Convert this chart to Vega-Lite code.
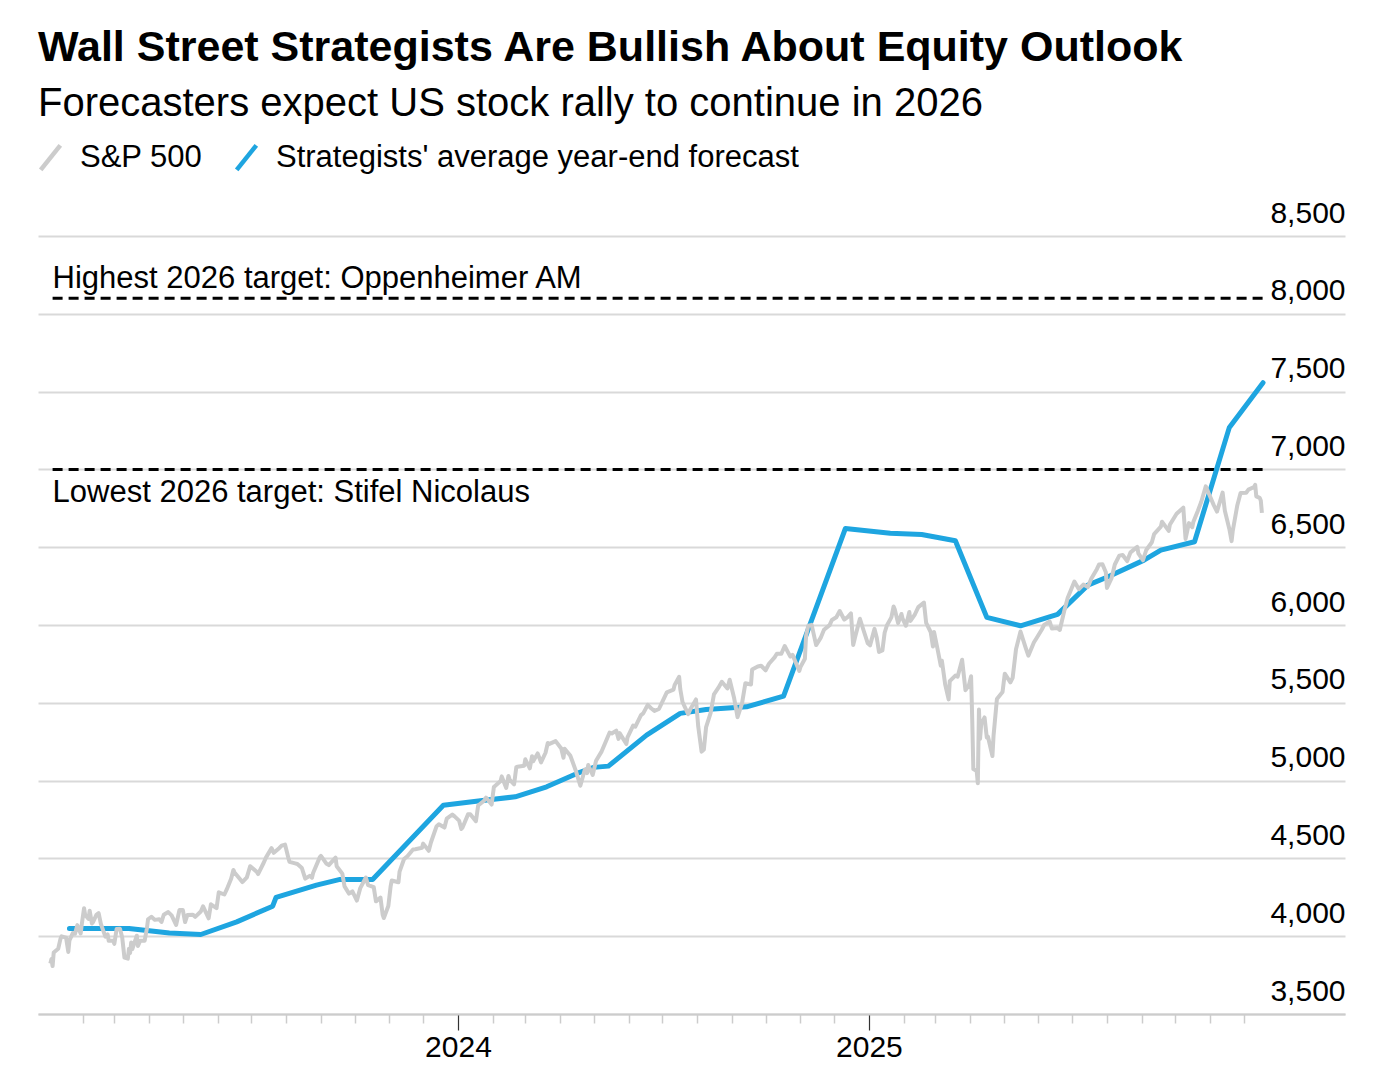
{
  "$schema": "https://vega.github.io/schema/vega-lite/v6.json",
  "width": 1307,
  "height": 778,
  "autosize": {"type": "none"},
  "padding": {"left": 38, "top": 236, "right": 41, "bottom": 66},
  "background": "white",
  "title": {
    "text": "Wall Street Strategists Are Bullish About Equity Outlook",
    "subtitle": "Forecasters expect US stock rally to continue in 2026",
    "anchor": "start",
    "frame": "group",
    "font": "Liberation Sans",
    "fontSize": 43,
    "fontWeight": "bold",
    "color": "#000000",
    "subtitleFont": "Liberation Sans",
    "subtitleFontSize": 40,
    "subtitleColor": "#000000",
    "subtitlePadding": 14,
    "offset": 18
  },
  "config": {
    "view": {"stroke": null},
    "font": "Liberation Sans",
    "legend": {
      "orient": "none",
      "legendX": -3,
      "legendY": -94,
      "direction": "horizontal",
      "title": null,
      "padding": 0,
      "symbolType": "M-0.8,1L0.8,-1",
      "symbolSize": 600,
      "symbolStrokeWidth": 4.5,
      "labelFont": "Liberation Sans",
      "labelFontSize": 31,
      "labelColor": "#000000",
      "labelOffset": 14,
      "labelLimit": 1000,
      "columnPadding": 24
    }
  },
  "datasets": {
    "sp": [
      {"date":"2023-01-03","value":3824},{"date":"2023-01-04","value":3853},{"date":"2023-01-05","value":3808},{"date":"2023-01-06","value":3895},{"date":"2023-01-10","value":3919},{"date":"2023-01-12","value":3983},{"date":"2023-01-13","value":3999},{"date":"2023-01-17","value":3991},{"date":"2023-01-19","value":3899},{"date":"2023-01-20","value":3973},{"date":"2023-01-23","value":4020},{"date":"2023-01-25","value":4016},{"date":"2023-01-27","value":4071},{"date":"2023-01-30","value":4018},{"date":"2023-01-31","value":4077},{"date":"2023-02-02","value":4180},{"date":"2023-02-03","value":4136},{"date":"2023-02-06","value":4111},{"date":"2023-02-07","value":4164},{"date":"2023-02-09","value":4082},{"date":"2023-02-10","value":4090},{"date":"2023-02-13","value":4137},{"date":"2023-02-15","value":4148},{"date":"2023-02-17","value":4079},{"date":"2023-02-21","value":3997},{"date":"2023-02-23","value":4012},{"date":"2023-02-24","value":3970},{"date":"2023-02-28","value":3970},{"date":"2023-03-01","value":3951},{"date":"2023-03-03","value":4046},{"date":"2023-03-06","value":4048},{"date":"2023-03-08","value":3992},{"date":"2023-03-10","value":3862},{"date":"2023-03-13","value":3856},{"date":"2023-03-14","value":3919},{"date":"2023-03-15","value":3892},{"date":"2023-03-16","value":3960},{"date":"2023-03-17","value":3917},{"date":"2023-03-21","value":4003},{"date":"2023-03-22","value":3937},{"date":"2023-03-24","value":3971},{"date":"2023-03-28","value":3971},{"date":"2023-03-30","value":4051},{"date":"2023-03-31","value":4109},{"date":"2023-04-03","value":4125},{"date":"2023-04-06","value":4105},{"date":"2023-04-10","value":4109},{"date":"2023-04-12","value":4092},{"date":"2023-04-14","value":4138},{"date":"2023-04-18","value":4155},{"date":"2023-04-21","value":4134},{"date":"2023-04-25","value":4072},{"date":"2023-04-28","value":4169},{"date":"2023-05-01","value":4168},{"date":"2023-05-03","value":4091},{"date":"2023-05-05","value":4136},{"date":"2023-05-10","value":4138},{"date":"2023-05-12","value":4124},{"date":"2023-05-17","value":4159},{"date":"2023-05-19","value":4192},{"date":"2023-05-24","value":4115},{"date":"2023-05-26","value":4205},{"date":"2023-05-31","value":4180},{"date":"2023-06-02","value":4282},{"date":"2023-06-07","value":4268},{"date":"2023-06-09","value":4299},{"date":"2023-06-13","value":4369},{"date":"2023-06-15","value":4426},{"date":"2023-06-16","value":4410},{"date":"2023-06-21","value":4366},{"date":"2023-06-23","value":4348},{"date":"2023-06-27","value":4378},{"date":"2023-06-30","value":4450},{"date":"2023-07-06","value":4412},{"date":"2023-07-07","value":4399},{"date":"2023-07-12","value":4472},{"date":"2023-07-14","value":4505},{"date":"2023-07-19","value":4566},{"date":"2023-07-21","value":4536},{"date":"2023-07-26","value":4567},{"date":"2023-07-28","value":4582},{"date":"2023-07-31","value":4589},{"date":"2023-08-03","value":4502},{"date":"2023-08-04","value":4478},{"date":"2023-08-09","value":4468},{"date":"2023-08-11","value":4464},{"date":"2023-08-15","value":4438},{"date":"2023-08-18","value":4370},{"date":"2023-08-22","value":4388},{"date":"2023-08-24","value":4376},{"date":"2023-08-25","value":4406},{"date":"2023-08-31","value":4508},{"date":"2023-09-01","value":4516},{"date":"2023-09-06","value":4465},{"date":"2023-09-08","value":4457},{"date":"2023-09-14","value":4505},{"date":"2023-09-15","value":4450},{"date":"2023-09-20","value":4402},{"date":"2023-09-22","value":4320},{"date":"2023-09-26","value":4274},{"date":"2023-09-29","value":4288},{"date":"2023-10-03","value":4229},{"date":"2023-10-06","value":4309},{"date":"2023-10-11","value":4377},{"date":"2023-10-13","value":4328},{"date":"2023-10-18","value":4315},{"date":"2023-10-20","value":4224},{"date":"2023-10-24","value":4248},{"date":"2023-10-26","value":4137},{"date":"2023-10-27","value":4117},{"date":"2023-10-31","value":4194},{"date":"2023-11-02","value":4318},{"date":"2023-11-03","value":4358},{"date":"2023-11-09","value":4347},{"date":"2023-11-10","value":4415},{"date":"2023-11-14","value":4496},{"date":"2023-11-17","value":4514},{"date":"2023-11-22","value":4557},{"date":"2023-11-24","value":4559},{"date":"2023-11-30","value":4568},{"date":"2023-12-01","value":4595},{"date":"2023-12-06","value":4549},{"date":"2023-12-08","value":4604},{"date":"2023-12-13","value":4707},{"date":"2023-12-15","value":4719},{"date":"2023-12-20","value":4698},{"date":"2023-12-22","value":4755},{"date":"2023-12-27","value":4782},{"date":"2023-12-29","value":4770},
      {"date":"2024-01-02","value":4743},{"date":"2024-01-04","value":4689},{"date":"2024-01-05","value":4697},{"date":"2024-01-10","value":4783},{"date":"2024-01-12","value":4784},{"date":"2024-01-17","value":4739},{"date":"2024-01-19","value":4840},{"date":"2024-01-24","value":4869},{"date":"2024-01-26","value":4891},{"date":"2024-01-31","value":4846},{"date":"2024-02-02","value":4959},{"date":"2024-02-08","value":4998},{"date":"2024-02-09","value":5027},{"date":"2024-02-13","value":4953},{"date":"2024-02-15","value":5030},{"date":"2024-02-16","value":5006},{"date":"2024-02-20","value":4976},{"date":"2024-02-22","value":5087},{"date":"2024-02-23","value":5089},{"date":"2024-02-29","value":5096},{"date":"2024-03-01","value":5137},{"date":"2024-03-05","value":5079},{"date":"2024-03-07","value":5157},{"date":"2024-03-08","value":5124},{"date":"2024-03-12","value":5175},{"date":"2024-03-15","value":5117},{"date":"2024-03-19","value":5179},{"date":"2024-03-21","value":5242},{"date":"2024-03-22","value":5234},{"date":"2024-03-28","value":5254},{"date":"2024-04-02","value":5206},{"date":"2024-04-04","value":5147},{"date":"2024-04-05","value":5204},{"date":"2024-04-10","value":5161},{"date":"2024-04-12","value":5123},{"date":"2024-04-15","value":5062},{"date":"2024-04-19","value":4967},{"date":"2024-04-23","value":5071},{"date":"2024-04-25","value":5048},{"date":"2024-04-26","value":5100},{"date":"2024-04-30","value":5036},{"date":"2024-05-03","value":5128},{"date":"2024-05-08","value":5188},{"date":"2024-05-10","value":5223},{"date":"2024-05-15","value":5308},{"date":"2024-05-17","value":5303},{"date":"2024-05-21","value":5321},{"date":"2024-05-23","value":5268},{"date":"2024-05-24","value":5305},{"date":"2024-05-30","value":5235},{"date":"2024-05-31","value":5278},{"date":"2024-06-05","value":5354},{"date":"2024-06-07","value":5347},{"date":"2024-06-12","value":5421},{"date":"2024-06-14","value":5432},{"date":"2024-06-18","value":5487},{"date":"2024-06-21","value":5465},{"date":"2024-06-24","value":5448},{"date":"2024-06-28","value":5460},{"date":"2024-07-03","value":5537},{"date":"2024-07-05","value":5567},{"date":"2024-07-11","value":5585},{"date":"2024-07-12","value":5615},{"date":"2024-07-16","value":5667},{"date":"2024-07-17","value":5588},{"date":"2024-07-19","value":5505},{"date":"2024-07-24","value":5427},{"date":"2024-07-26","value":5459},{"date":"2024-07-31","value":5522},{"date":"2024-08-02","value":5347},{"date":"2024-08-05","value":5186},{"date":"2024-08-07","value":5200},{"date":"2024-08-09","value":5344},{"date":"2024-08-13","value":5434},{"date":"2024-08-16","value":5554},{"date":"2024-08-20","value":5597},{"date":"2024-08-23","value":5635},{"date":"2024-08-28","value":5592},{"date":"2024-08-30","value":5648},{"date":"2024-09-03","value":5529},{"date":"2024-09-06","value":5408},{"date":"2024-09-10","value":5496},{"date":"2024-09-13","value":5626},{"date":"2024-09-18","value":5618},{"date":"2024-09-19","value":5714},{"date":"2024-09-24","value":5733},{"date":"2024-09-27","value":5738},{"date":"2024-10-01","value":5709},{"date":"2024-10-04","value":5751},{"date":"2024-10-09","value":5792},{"date":"2024-10-11","value":5815},{"date":"2024-10-15","value":5815},{"date":"2024-10-18","value":5865},{"date":"2024-10-23","value":5797},{"date":"2024-10-25","value":5808},{"date":"2024-10-31","value":5705},{"date":"2024-11-01","value":5729},{"date":"2024-11-05","value":5783},{"date":"2024-11-06","value":5929},{"date":"2024-11-08","value":5996},{"date":"2024-11-11","value":6001},{"date":"2024-11-15","value":5871},{"date":"2024-11-19","value":5917},{"date":"2024-11-22","value":5969},{"date":"2024-11-27","value":5999},{"date":"2024-11-29","value":6032},{"date":"2024-12-03","value":6050},{"date":"2024-12-06","value":6090},{"date":"2024-12-10","value":6035},{"date":"2024-12-13","value":6051},{"date":"2024-12-16","value":6074},{"date":"2024-12-18","value":5872},{"date":"2024-12-20","value":5931},{"date":"2024-12-24","value":6040},{"date":"2024-12-27","value":5971},{"date":"2024-12-31","value":5882},
      {"date":"2025-01-02","value":5869},{"date":"2025-01-06","value":5975},{"date":"2025-01-08","value":5918},{"date":"2025-01-10","value":5827},{"date":"2025-01-13","value":5836},{"date":"2025-01-15","value":5950},{"date":"2025-01-17","value":5997},{"date":"2025-01-21","value":6049},{"date":"2025-01-23","value":6119},{"date":"2025-01-24","value":6101},{"date":"2025-01-27","value":6012},{"date":"2025-01-30","value":6071},{"date":"2025-01-31","value":6041},{"date":"2025-02-03","value":5995},{"date":"2025-02-06","value":6084},{"date":"2025-02-07","value":6026},{"date":"2025-02-11","value":6069},{"date":"2025-02-14","value":6115},{"date":"2025-02-19","value":6144},{"date":"2025-02-21","value":6013},{"date":"2025-02-25","value":5955},{"date":"2025-02-27","value":5862},{"date":"2025-02-28","value":5955},{"date":"2025-03-03","value":5850},{"date":"2025-03-06","value":5739},{"date":"2025-03-07","value":5770},{"date":"2025-03-10","value":5615},{"date":"2025-03-13","value":5522},{"date":"2025-03-14","value":5639},{"date":"2025-03-19","value":5675},{"date":"2025-03-21","value":5668},{"date":"2025-03-25","value":5777},{"date":"2025-03-28","value":5581},{"date":"2025-03-31","value":5612},{"date":"2025-04-02","value":5671},{"date":"2025-04-03","value":5397},{"date":"2025-04-04","value":5074},{"date":"2025-04-07","value":5062},{"date":"2025-04-08","value":4983},{"date":"2025-04-09","value":5457},{"date":"2025-04-10","value":5268},{"date":"2025-04-11","value":5363},{"date":"2025-04-14","value":5406},{"date":"2025-04-16","value":5276},{"date":"2025-04-17","value":5283},{"date":"2025-04-21","value":5158},{"date":"2025-04-22","value":5288},{"date":"2025-04-25","value":5525},{"date":"2025-04-30","value":5569},{"date":"2025-05-02","value":5687},{"date":"2025-05-07","value":5631},{"date":"2025-05-09","value":5660},{"date":"2025-05-12","value":5844},{"date":"2025-05-16","value":5958},{"date":"2025-05-21","value":5845},{"date":"2025-05-23","value":5803},{"date":"2025-05-28","value":5889},{"date":"2025-05-30","value":5912},{"date":"2025-06-04","value":5971},{"date":"2025-06-06","value":6000},{"date":"2025-06-11","value":6022},{"date":"2025-06-13","value":5977},{"date":"2025-06-18","value":5981},{"date":"2025-06-20","value":5968},{"date":"2025-06-24","value":6092},{"date":"2025-06-27","value":6173},{"date":"2025-07-03","value":6279},{"date":"2025-07-07","value":6230},{"date":"2025-07-11","value":6260},{"date":"2025-07-15","value":6244},{"date":"2025-07-18","value":6297},{"date":"2025-07-23","value":6359},{"date":"2025-07-25","value":6389},{"date":"2025-07-28","value":6390},{"date":"2025-07-31","value":6339},{"date":"2025-08-01","value":6238},{"date":"2025-08-05","value":6299},{"date":"2025-08-08","value":6389},{"date":"2025-08-12","value":6446},{"date":"2025-08-15","value":6450},{"date":"2025-08-19","value":6411},{"date":"2025-08-22","value":6467},{"date":"2025-08-28","value":6502},{"date":"2025-08-29","value":6460},{"date":"2025-09-02","value":6416},{"date":"2025-09-05","value":6482},{"date":"2025-09-10","value":6532},{"date":"2025-09-12","value":6584},{"date":"2025-09-18","value":6632},{"date":"2025-09-19","value":6664},{"date":"2025-09-25","value":6605},{"date":"2025-09-26","value":6644},{"date":"2025-10-02","value":6715},{"date":"2025-10-08","value":6754},{"date":"2025-10-10","value":6553},{"date":"2025-10-13","value":6655},{"date":"2025-10-16","value":6629},{"date":"2025-10-17","value":6664},{"date":"2025-10-21","value":6735},{"date":"2025-10-24","value":6792},{"date":"2025-10-28","value":6891},{"date":"2025-10-31","value":6840},{"date":"2025-11-04","value":6772},{"date":"2025-11-07","value":6729},{"date":"2025-11-12","value":6851},{"date":"2025-11-14","value":6734},{"date":"2025-11-18","value":6617},{"date":"2025-11-20","value":6539},{"date":"2025-11-21","value":6603},{"date":"2025-11-25","value":6766},{"date":"2025-11-28","value":6849},{"date":"2025-12-03","value":6850},{"date":"2025-12-05","value":6870},{"date":"2025-12-10","value":6887},{"date":"2025-12-11","value":6901},{"date":"2025-12-12","value":6827},{"date":"2025-12-15","value":6817},{"date":"2025-12-16","value":6800},{"date":"2025-12-17","value":6721}
    ],
    "fc": [
      {"date":"2023-01-20","value":4050},{"date":"2023-03-14","value":4050},{"date":"2023-04-19","value":4021},{"date":"2023-05-17","value":4011},{"date":"2023-06-18","value":4092},{"date":"2023-07-20","value":4193},{"date":"2023-07-23","value":4249},{"date":"2023-08-28","value":4328},{"date":"2023-09-18","value":4365},{"date":"2023-10-17","value":4365},{"date":"2023-12-19","value":4842},{"date":"2024-01-21","value":4870},{"date":"2024-02-21","value":4896},{"date":"2024-03-20","value":4960},{"date":"2024-04-16","value":5046},{"date":"2024-05-01","value":5085},{"date":"2024-05-14","value":5093},{"date":"2024-06-17","value":5292},{"date":"2024-07-17","value":5432},{"date":"2024-08-09","value":5457},{"date":"2024-09-14","value":5474},{"date":"2024-10-17","value":5543},{"date":"2024-12-11","value":6620},{"date":"2025-01-20","value":6590},{"date":"2025-02-17","value":6582},{"date":"2025-03-19","value":6541},{"date":"2025-04-16","value":6049},{"date":"2025-05-16","value":5995},{"date":"2025-06-18","value":6068},{"date":"2025-07-15","value":6256},{"date":"2025-08-02","value":6310},{"date":"2025-09-03","value":6417},{"date":"2025-09-18","value":6481},{"date":"2025-10-18","value":6535},{"date":"2025-11-18","value":7270},{"date":"2025-12-18","value":7557}
    ],
    "targets": [
      {"start":"2023-01-05","end":"2025-12-18","value":8100,"label":"Highest 2026 target: Oppenheimer AM"},
      {"start":"2023-01-05","end":"2025-12-18","value":7000,"label":"Lowest 2026 target: Stifel Nicolaus"}
    ]
  },
  "encoding": {
    "x": {
      "field": "date",
      "type": "temporal",
      "scale": {"domain": ["2022-12-23", "2026-03-01"]},
      "axis": {
        "title": null,
        "grid": false,
        "domain": true,
        "domainColor": "#cccccc",
        "domainWidth": 2,
        "values": [
          {"year":2023,"month":2,"date":1},{"year":2023,"month":3,"date":1},{"year":2023,"month":4,"date":1},{"year":2023,"month":5,"date":1},{"year":2023,"month":6,"date":1},{"year":2023,"month":7,"date":1},{"year":2023,"month":8,"date":1},{"year":2023,"month":9,"date":1},{"year":2023,"month":10,"date":1},{"year":2023,"month":11,"date":1},{"year":2023,"month":12,"date":1},
          {"year":2024,"month":1,"date":1},{"year":2024,"month":2,"date":1},{"year":2024,"month":3,"date":1},{"year":2024,"month":4,"date":1},{"year":2024,"month":5,"date":1},{"year":2024,"month":6,"date":1},{"year":2024,"month":7,"date":1},{"year":2024,"month":8,"date":1},{"year":2024,"month":9,"date":1},{"year":2024,"month":10,"date":1},{"year":2024,"month":11,"date":1},{"year":2024,"month":12,"date":1},
          {"year":2025,"month":1,"date":1},{"year":2025,"month":2,"date":1},{"year":2025,"month":3,"date":1},{"year":2025,"month":4,"date":1},{"year":2025,"month":5,"date":1},{"year":2025,"month":6,"date":1},{"year":2025,"month":7,"date":1},{"year":2025,"month":8,"date":1},{"year":2025,"month":9,"date":1},{"year":2025,"month":10,"date":1},{"year":2025,"month":11,"date":1},{"year":2025,"month":12,"date":1}
        ],
        "tickColor": {"condition": {"test": "month(datum.value) === 0", "value": "#333333"}, "value": "#cccccc"},
        "tickSize": {"condition": {"test": "month(datum.value) === 0", "value": 16}, "value": 9},
        "tickWidth": {"condition": {"test": "month(datum.value) === 0", "value": 1.2}, "value": 1.5},
        "labelExpr": "month(datum.value) === 0 ? timeFormat(datum.value, '%Y') : ''",
        "labelFont": "Liberation Sans",
        "labelFontSize": 30,
        "labelColor": "#000000",
        "labelPadding": 2,
        "labelFlush": false,
        "labelOverlap": false,
        "labelBound": false
      }
    },
    "y": {
      "field": "value",
      "type": "quantitative",
      "scale": {"domain": [3500, 8500], "nice": false, "zero": false},
      "axis": {
        "orient": "right",
        "title": null,
        "domain": false,
        "ticks": false,
        "tickSize": 0,
        "grid": true,
        "gridColor": "#d9d9d9",
        "gridWidth": 2,
        "values": [3500, 4000, 4500, 5000, 5500, 6000, 6500, 7000, 7500, 8000, 8500],
        "format": ",.0f",
        "labelAlign": "right",
        "labelBaseline": "alphabetic",
        "labelPadding": 0,
        "labelOffset": -14,
        "labelFont": "Liberation Sans",
        "labelFontSize": 30,
        "labelColor": "#000000",
        "labelBound": false,
        "labelFlush": false,
        "labelOverlap": false
      }
    }
  },
  "layer": [
    {
      "data": {"name": "targets"},
      "mark": {"type": "rule", "color": "#000000", "strokeWidth": 3, "strokeDash": [10, 6]},
      "encoding": {
        "x": {"field": "start", "type": "temporal"},
        "x2": {"field": "end"},
        "y": {"field": "value", "type": "quantitative"}
      }
    },
    {
      "data": {"name": "targets"},
      "transform": [{"filter": "datum.value > 8000"}],
      "mark": {"type": "text", "align": "left", "baseline": "alphabetic", "dy": -10, "font": "Liberation Sans", "fontSize": 31, "color": "#000000"},
      "encoding": {
        "x": {"field": "start", "type": "temporal"},
        "y": {"field": "value", "type": "quantitative"},
        "text": {"field": "label"}
      }
    },
    {
      "data": {"name": "targets"},
      "transform": [{"filter": "datum.value < 8000"}],
      "mark": {"type": "text", "align": "left", "baseline": "alphabetic", "dy": 33, "font": "Liberation Sans", "fontSize": 31, "color": "#000000"},
      "encoding": {
        "x": {"field": "start", "type": "temporal"},
        "y": {"field": "value", "type": "quantitative"},
        "text": {"field": "label"}
      }
    },
    {
      "data": {"name": "fc"},
      "mark": {"type": "line", "strokeWidth": 5, "strokeJoin": "round", "strokeCap": "round"},
      "encoding": {
        "color": {
          "datum": "Strategists' average year-end forecast",
          "scale": {"domain": ["S&P 500", "Strategists' average year-end forecast"], "range": ["#cccccc", "#1ea5e0"]}
        }
      }
    },
    {
      "data": {"name": "sp"},
      "mark": {"type": "line", "strokeWidth": 4, "strokeJoin": "round"},
      "encoding": {
        "color": {"datum": "S&P 500"}
      }
    }
  ]
}
